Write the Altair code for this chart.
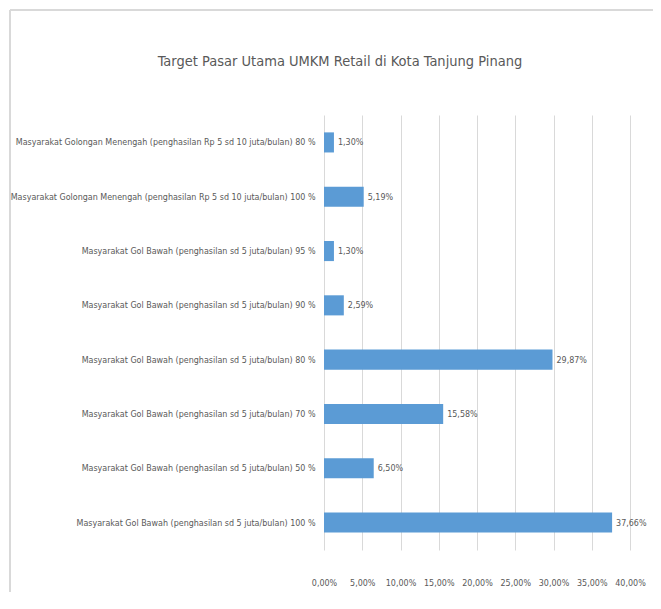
import altair as alt
import pandas as pd

categories = [
    "Masyarakat Golongan Menengah (penghasilan Rp 5 sd 10 juta/bulan) 80 %",
    "Masyarakat Golongan Menengah (penghasilan Rp 5 sd 10 juta/bulan) 100 %",
    "Masyarakat Gol Bawah (penghasilan sd 5 juta/bulan) 95 %",
    "Masyarakat Gol Bawah (penghasilan sd 5 juta/bulan) 90 %",
    "Masyarakat Gol Bawah (penghasilan sd 5 juta/bulan) 80 %",
    "Masyarakat Gol Bawah (penghasilan sd 5 juta/bulan) 70 %",
    "Masyarakat Gol Bawah (penghasilan sd 5 juta/bulan) 50 %",
    "Masyarakat Gol Bawah (penghasilan sd 5 juta/bulan) 100 %",
]
values = [1.30, 5.19, 1.30, 2.59, 29.87, 15.58, 6.50, 37.66]
x_ticks = [0, 5, 10, 15, 20, 25, 30, 35, 40]

df = pd.DataFrame({"kategori": categories, "nilai": values})

FONT = "DejaVu Sans Condensed, Liberation Sans Narrow, sans-serif"
GREY = "#595959"
BAR = "#5B9BD5"
FS = 8.9

base = alt.Chart(df)

y_enc = alt.Y(
    "kategori:N",
    sort=None,
    title=None,
    scale=alt.Scale(paddingInner=0.63, paddingOuter=0.32),
    axis=alt.Axis(
        domain=False, ticks=False, labelLimit=0, labelPadding=9,
        labelFont=FONT, labelFontSize=FS, labelColor=GREY,
    ),
)
x_enc = alt.X(
    "nilai:Q",
    title=None,
    scale=alt.Scale(domain=[0, 40], nice=False),
    axis=alt.Axis(
        values=x_ticks, grid=True, gridColor="#D9D9D9", domain=False,
        ticks=False, labelPadding=28, labelFont=FONT, labelFontSize=FS,
        labelColor=GREY, labelOverlap=False, labelFlush=False,
        labelExpr="replace(format(datum.value / 100, '.2%'), '.', ',')",
    ),
)

bars = base.mark_bar(color=BAR).encode(x=x_enc, y=y_enc)

labels = base.transform_calculate(
    lbl="replace(format(datum.nilai / 100, '.2%'), '.', ',')"
).mark_text(
    align="left", baseline="middle", dx=4, font=FONT, fontSize=FS, color=GREY
).encode(x=x_enc, y=y_enc, text="lbl:N")

frame_df = pd.DataFrame({"a": [0]})
top_line = alt.Chart(frame_df).mark_rule(color="#D9D9D9", strokeWidth=2).encode(
    x=alt.value(-314), x2=alt.value(337), y=alt.value(-105)
)
left_line = alt.Chart(frame_df).mark_rule(color="#D9D9D9", strokeWidth=2).encode(
    x=alt.value(-314), y=alt.value(-105), y2=alt.value(486)
)

chart = alt.layer(top_line, left_line, bars, labels).properties(
    width=306,
    height=435,
    autosize="none",
    padding={"left": 316, "top": 107, "right": 23, "bottom": 42},
    title=alt.TitleParams(
        "Target Pasar Utama UMKM Retail di Kota Tanjung Pinang",
        anchor="middle", frame="group", dx=-137, offset=-60, font=FONT,
        fontSize=14.5, fontWeight="normal", color=GREY,
    ),
).configure_view(stroke=None)

chart.save("out.html", embed_options={"renderer": "svg", "actions": False})
